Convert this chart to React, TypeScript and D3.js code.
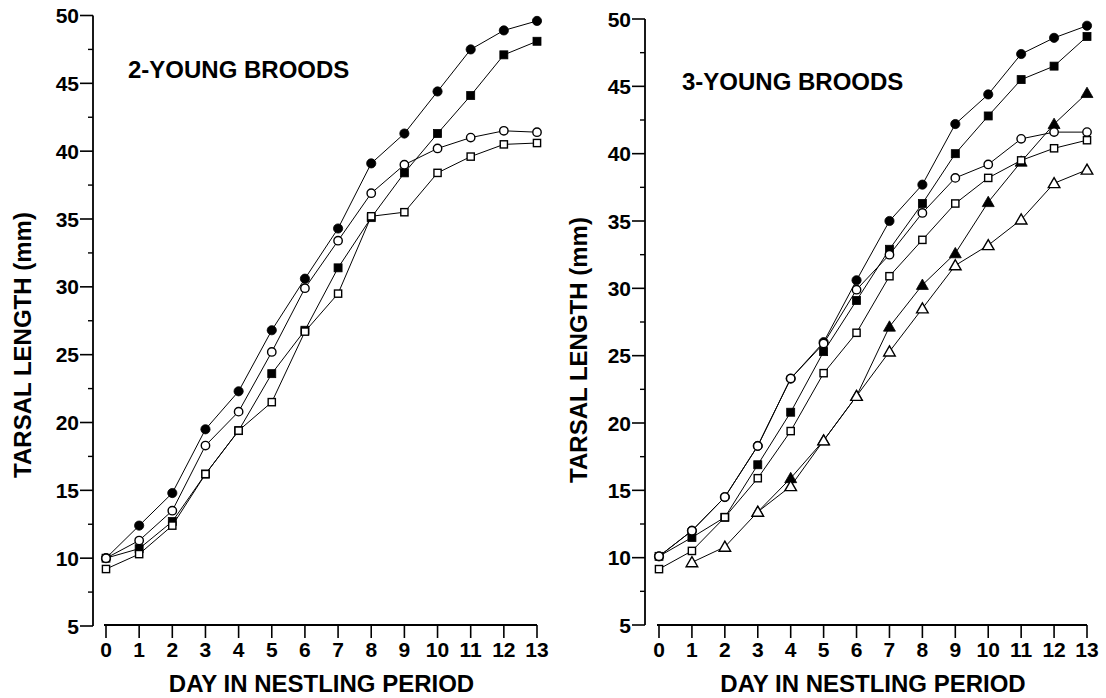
import React from "react";
import * as d3 from "d3";

const DAYS = [0, 1, 2, 3, 4, 5, 6, 7, 8, 9, 10, 11, 12, 13];
const Y_TICKS = [5, 10, 15, 20, 25, 30, 35, 40, 45, 50];
const Y_MINOR = [7.5, 12.5, 17.5, 22.5, 27.5, 32.5, 37.5, 42.5, 47.5];

const X_TITLE = "DAY IN NESTLING PERIOD";
const Y_TITLE = "TARSAL LENGTH (mm)";
const LEFT_TITLE = "2-YOUNG BROODS";
const RIGHT_TITLE = "3-YOUNG BROODS";

type V = number | null;

// 2-young broods
const L_FILLED_CIRCLE: V[] = [10.0, 12.4, 14.8, 19.5, 22.3, 26.8, 30.6, 34.3, 39.1, 41.3, 44.4, 47.5, 48.9, 49.6];
const L_FILLED_SQUARE: V[] = [10.0, 10.7, 12.7, 16.2, 19.4, 23.6, 26.8, 31.4, 35.1, 38.4, 41.3, 44.1, 47.1, 48.1];
const L_OPEN_CIRCLE: V[] = [10.0, 11.3, 13.5, 18.3, 20.8, 25.2, 29.9, 33.4, 36.9, 39.0, 40.2, 41.0, 41.5, 41.4];
const L_OPEN_SQUARE: V[] = [9.2, 10.3, 12.4, 16.2, 19.4, 21.5, 26.7, 29.5, 35.2, 35.5, 38.4, 39.6, 40.5, 40.6];

// 3-young broods
const R_FILLED_CIRCLE: V[] = [10.1, 12.0, 14.5, 18.3, 23.3, 26.0, 30.6, 35.0, 37.7, 42.2, 44.4, 47.4, 48.6, 49.5];
const R_FILLED_SQUARE: V[] = [10.1, 11.5, 13.0, 16.9, 20.8, 25.3, 29.1, 32.9, 36.3, 40.0, 42.8, 45.5, 46.5, 48.7];
const R_OPEN_CIRCLE: V[] = [10.1, 12.0, 14.5, 18.3, 23.3, 25.9, 29.9, 32.5, 35.6, 38.2, 39.2, 41.1, 41.6, 41.6];
const R_OPEN_SQUARE: V[] = [9.15, 10.5, 13.0, 15.9, 19.4, 23.7, 26.7, 30.9, 33.6, 36.3, 38.2, 39.5, 40.4, 41.0];
const R_FILLED_TRIANGLE: V[] = [null, null, null, 13.4, 15.9, 18.7, 22.0, 27.15, 30.25, 32.6, 36.4, 39.4, 42.2, 44.5];
const R_OPEN_TRIANGLE: V[] = [null, 9.65, 10.8, 13.4, 15.3, 18.7, 22.0, 25.3, 28.5, 31.7, 33.2, 35.1, 37.8, 38.8];

type Shape = "circle" | "square" | "triangle";
interface Series { values: V[]; shape: Shape; filled: boolean; }

const LEFT_SERIES: Series[] = [
  { values: L_FILLED_CIRCLE, shape: "circle", filled: true },
  { values: L_FILLED_SQUARE, shape: "square", filled: true },
  { values: L_OPEN_SQUARE, shape: "square", filled: false },
  { values: L_OPEN_CIRCLE, shape: "circle", filled: false },
];
const RIGHT_SERIES: Series[] = [
  { values: R_FILLED_CIRCLE, shape: "circle", filled: true },
  { values: R_FILLED_SQUARE, shape: "square", filled: true },
  { values: R_FILLED_TRIANGLE, shape: "triangle", filled: true },
  { values: R_OPEN_SQUARE, shape: "square", filled: false },
  { values: R_OPEN_CIRCLE, shape: "circle", filled: false },
  { values: R_OPEN_TRIANGLE, shape: "triangle", filled: false },
];

const FONT = "'Liberation Sans', Arial, Helvetica, sans-serif";

interface PanelProps {
  series: Series[];
  title: string;
  titleX: number;
  titleY: number;
  x0: number; x13: number;
  y5: number; y50: number;
  axisX: number;
  xAxisY: number;
  xAxisStart: number;
  yTitleX: number;
  yTitleY: number;
}

function Marker({ s, cx, cy }: { s: Series; cx: number; cy: number }) {
  const fill = s.filled ? "#000" : "#fff";
  const sw = s.filled ? 0.8 : 1.4;
  if (s.shape === "circle") {
    return <circle cx={cx} cy={cy} r={s.filled ? 4.6 : 4.2} fill={fill} stroke="#000" strokeWidth={sw} />;
  }
  if (s.shape === "square") {
    const h = s.filled ? 4 : 3.6;
    return <rect x={cx - h} y={cy - h} width={2 * h} height={2 * h} fill={fill} stroke="#000" strokeWidth={sw} />;
  }
  const path = d3.symbol().type(d3.symbolTriangle).size(s.filled ? 62 : 58)() as string;
  return <path d={path} transform={`translate(${cx},${cy + 1})`} fill={fill} stroke="#000" strokeWidth={sw} />;
}

function Panel(p: PanelProps) {
  const x = d3.scaleLinear().domain([0, 13]).range([p.x0, p.x13]);
  const y = d3.scaleLinear().domain([5, 50]).range([p.y5, p.y50]);
  const line = d3
    .line<V>()
    .defined((d) => d !== null)
    .x((_, i) => x(DAYS[i]))
    .y((d) => y(d as number));

  return (
    <g>
      {/* y axis */}
      <line x1={p.axisX} x2={p.axisX} y1={y(50)} y2={y(5)} stroke="#000" strokeWidth={1.8} />
      {Y_TICKS.map((t) => (
        <g key={t}>
          <line x1={p.axisX - 13} x2={p.axisX} y1={y(t)} y2={y(t)} stroke="#000" strokeWidth={1.6} />
          <text
            x={p.axisX - 14}
            y={y(t)}
            dy="0.36em"
            textAnchor="end"
            fontFamily={FONT}
            fontWeight="bold"
            fontSize={21}
          >
            {t}
          </text>
        </g>
      ))}
      {Y_MINOR.map((t) => (
        <line key={t} x1={p.axisX - 5} x2={p.axisX} y1={y(t)} y2={y(t)} stroke="#000" strokeWidth={1.4} />
      ))}
      <text
        transform={`translate(${p.yTitleX},${p.yTitleY}) rotate(-90)`}
        textAnchor="middle"
        dy="0.36em"
        fontFamily={FONT}
        fontWeight="bold"
        fontSize={24}
      >
        {Y_TITLE}
      </text>

      {/* x axis */}
      <line x1={p.xAxisStart} x2={x(13)} y1={p.xAxisY} y2={p.xAxisY} stroke="#000" strokeWidth={1.8} />
      {DAYS.map((d) => (
        <g key={d}>
          <line x1={x(d)} x2={x(d)} y1={p.xAxisY} y2={p.xAxisY + 13} stroke="#000" strokeWidth={1.6} />
          <text
            x={x(d)}
            y={p.xAxisY + 32}
            textAnchor="middle"
            fontFamily={FONT}
            fontWeight="bold"
            fontSize={21}
          >
            {d}
          </text>
        </g>
      ))}
      <text
        x={(x(0) + x(13)) / 2}
        y={692}
        textAnchor="middle"
        fontFamily={FONT}
        fontWeight="bold"
        fontSize={24}
      >
        {X_TITLE}
      </text>

      {/* panel title */}
      <text x={p.titleX} y={p.titleY} fontFamily={FONT} fontWeight="bold" fontSize={24}>
        {p.title}
      </text>

      {/* lines */}
      {p.series.map((s, i) => (
        <path key={i} d={line(s.values) as string} fill="none" stroke="#000" strokeWidth={1} />
      ))}
      {/* markers */}
      {p.series.map((s, i) =>
        s.values.map((v, j) =>
          v === null ? null : <Marker key={`${i}-${j}`} s={s} cx={x(DAYS[j])} cy={y(v)} />
        )
      )}
    </g>
  );
}

export default function App() {
  return (
    <svg
      width={1106}
      height={698}
      style={{ position: "absolute", left: 0, top: 0, background: "#fff" }}
    >
      <rect x={0} y={0} width={1106} height={698} fill="#fff" />
      <Panel
        series={LEFT_SERIES}
        title={LEFT_TITLE}
        titleX={128}
        titleY={78}
        x0={106}
        x13={537}
        y5={626}
        y50={15.5}
        axisX={93}
        xAxisY={625}
        xAxisStart={104}
        yTitleX={22}
        yTitleY={345}
      />
      <Panel
        series={RIGHT_SERIES}
        title={RIGHT_TITLE}
        titleX={682}
        titleY={90}
        x0={659}
        x13={1087}
        y5={625}
        y50={19}
        axisX={645}
        xAxisY={625}
        xAxisStart={657}
        yTitleX={578}
        yTitleY={350}
      />
    </svg>
  );
}
